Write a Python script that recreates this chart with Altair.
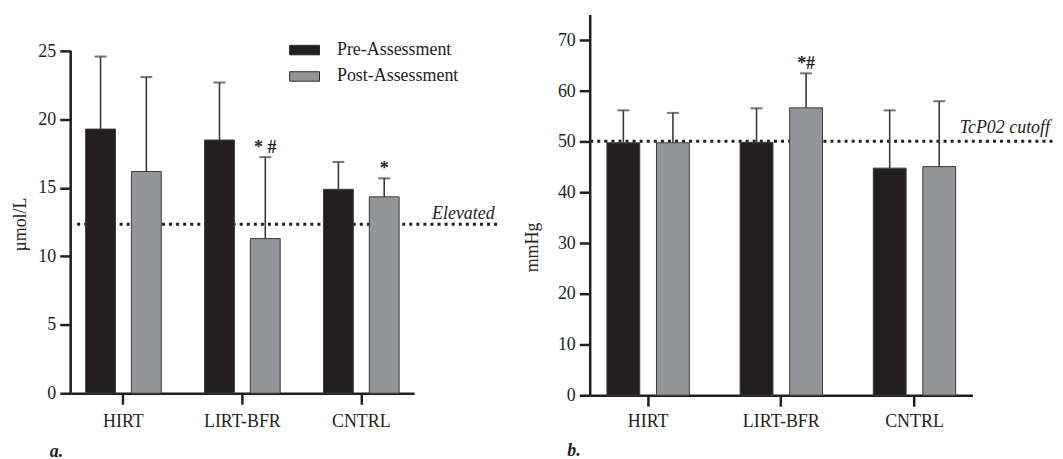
import altair as alt
import pandas as pd

# ---------------- data ----------------
groups = ["HIRT", "LIRT-BFR", "CNTRL"]
phases = ["Pre-Assessment", "Post-Assessment"]

# panel a (µmol/L)
a_pre = [19.3, 18.5, 14.9]
a_pre_err = [24.6, 22.7, 16.9]
a_post = [16.2, 11.3, 14.35]
a_post_err = [23.1, 17.25, 15.7]
a_marks = ["", "* #", "*"]
a_threshold = [12.35]
a_threshold_label = ["Elevated"]
a_axis_range = [0, 25]

# panel b (mmHg)
b_pre = [49.8, 49.9, 44.8]
b_pre_err = [56.2, 56.6, 56.2]
b_post = [49.8, 56.7, 45.1]
b_post_err = [55.7, 63.5, 58.0]
b_marks = ["", "*#", ""]
b_threshold = [50.1]
b_threshold_label = ["TcP02 cutoff"]
b_axis_range = [0, 75]

a_ticks = [0, 5, 10, 15, 20, 25]
b_ticks = [0, 10, 20, 30, 40, 50, 60, 70]

FONT = "Liberation Serif"
INK = "#231f20"
PRE_COLOR = "#231f20"
POST_COLOR = "#939598"
ERR = "#3a3a3a"


def make_df(pre, pre_err, post, post_err, marks):
    rows = []
    for i, g in enumerate(groups):
        rows.append(dict(group=g, phase=phases[0], value=pre[i], err=pre_err[i], mark=""))
        rows.append(dict(group=g, phase=phases[1], value=post[i], err=post_err[i], mark=marks[i]))
    return pd.DataFrame(rows)


def panel(df, thr, thr_label, ymax, axis_range, yticks, ytitle, w, h, xs, xo, title_x, title_y,
          x_label_pad, line_x1, line_x2, lab_x, lab_dy, letter, letter_x, letter_y,
          anchor_x1, anchor_x2, anchor_y, legend):
    xscale = alt.Scale(paddingInner=xs[0], paddingOuter=xs[1])
    xaxis = alt.Axis(labelAngle=0, labelFont=FONT, labelFontSize=18, labelColor=INK,
                     labelPadding=x_label_pad, tickSize=11, tickWidth=2.5, tickColor=INK,
                     domainWidth=2.5, domainColor=INK, title=None)
    x = alt.X("group:N", sort=groups, scale=xscale, axis=xaxis, title=None)
    xoff = alt.XOffset("phase:N", sort=phases,
                       scale=alt.Scale(paddingInner=xo[0], paddingOuter=xo[1]))
    yscale = alt.Scale(domain=[0, ymax], nice=False, zero=True)
    yaxis = alt.Axis(values=yticks, grid=False, domain=False, labelFont=FONT, labelFontSize=18,
                     labelColor=INK, labelPadding=4, tickSize=11, tickWidth=2.5,
                     tickColor=INK,
                     titleFont=FONT, titleFontSize=18, titleFontWeight="normal",
                     titleColor=INK, titleX=title_x, titleY=title_y,
                     titleBaseline="alphabetic", titleAngle=270, labelOverlap=False)

    def y(field):
        return alt.Y(field, scale=yscale, axis=yaxis, title=ytitle)

    base = alt.Chart(df)
    color = alt.Color("phase:N", sort=phases,
                      scale=alt.Scale(domain=phases, range=[PRE_COLOR, POST_COLOR]),
                      legend=legend)

    # y axis line, drawn over the axis range only
    adf = pd.DataFrame({"lo": [axis_range[0]], "hi": [axis_range[1]]})
    axis_line = alt.Chart(adf).mark_rule(color=INK, strokeWidth=2.5).encode(
        x=alt.value(0), y=y("lo:Q"), y2=alt.Y2("hi:Q"))

    tdf = pd.DataFrame({"value": thr, "label": thr_label})
    thr_line = alt.Chart(tdf).mark_rule(
        strokeDash=[3, 4.1], strokeWidth=3, color=INK, strokeCap="butt"
    ).encode(y=y("value:Q"), x=alt.value(line_x1), x2=alt.value(line_x2))
    thr_text = alt.Chart(tdf).mark_text(
        font=FONT, fontSize=18, fontStyle="italic", color=INK, align="right",
        baseline="alphabetic", dy=lab_dy
    ).encode(y=y("value:Q"), x=alt.value(lab_x), text="label:N")

    bars = base.mark_bar(stroke="#3c3c3c", strokeWidth=1).encode(
        x=x, xOffset=xoff, y=y("value:Q"), color=color)
    err_line = base.mark_rule(color=ERR, strokeWidth=1.6).encode(
        x=x, xOffset=xoff, y=y("value:Q"), y2=alt.Y2("err:Q"))
    err_cap = base.mark_tick(color=ERR, thickness=2, size=12, orient="horizontal").encode(
        x=x, xOffset=xoff, y=y("err:Q"))
    notes = base.transform_filter(alt.datum.mark != "").mark_text(
        font=FONT, fontSize=18, fontWeight="bold", color=INK, baseline="alphabetic", dy=-4.5
    ).encode(x=x, xOffset=xoff, y=y("err:Q"), text="mark:N")

    ldf = pd.DataFrame({"letter": [letter]})
    letter_mark = alt.Chart(ldf).mark_text(
        font=FONT, fontSize=18, fontStyle="italic", fontWeight="bold", color=INK,
        align="left", baseline="alphabetic"
    ).encode(x=alt.value(letter_x), y=alt.value(letter_y), text="letter:N")

    anchor = alt.Chart(ldf).mark_rule(strokeOpacity=0, opacity=0).encode(
        x=alt.value(anchor_x1), x2=alt.value(anchor_x2), y=alt.value(anchor_y))

    return alt.layer(thr_line, thr_text, bars, err_line, err_cap, notes, axis_line,
                     letter_mark, anchor).properties(width=w, height=h)


legend_a = alt.Legend(orient="none", legendX=219.5, legendY=19.7, title=None,
                      symbolType="M-1,-0.3167H1V0.3167H-1Z", symbolSize=900,
                      symbolStrokeColor="#2a2a2a", symbolStrokeWidth=1, symbolOpacity=1,
                      labelFont=FONT, labelFontSize=18, labelColor=INK, labelOffset=17,
                      rowPadding=1.5, padding=0)

# left panel: plot area shares its top with the right one; the axis line stops at 25
left = panel(make_df(a_pre, a_pre_err, a_post, a_post_err, a_marks),
             a_threshold, a_threshold_label, 27.63, a_axis_range, a_ticks, "µmol/L",
             345, 380, (0.23, 0.0585), (0.348, 0.174), -45, 210, 8,
             6.5, 430, 426, -5, "a.", -21, 444.2, -63, 436, -1.3, legend_a)

right = panel(make_df(b_pre, b_pre_err, b_post, b_post_err, b_marks),
              b_threshold, b_threshold_label, 75, b_axis_range, b_ticks, "mmHg",
              384, 382, (0.2556, 0.0628), (0.337, 0.1687), -53, 233, 6,
              0, 465, 462, -8, "b.", -23, 443, -70, 466, -1.3, None)

chart = alt.hconcat(left, right, spacing=16).resolve_scale(
    color="independent", x="independent", y="independent", xOffset="independent"
).resolve_legend(color="independent").properties(
    padding={"left": 0, "top": 4, "right": 0, "bottom": 0},
    background="white",
).configure_view(stroke=None)

chart.save("out.html", embed_options={"renderer": "svg", "actions": False})
